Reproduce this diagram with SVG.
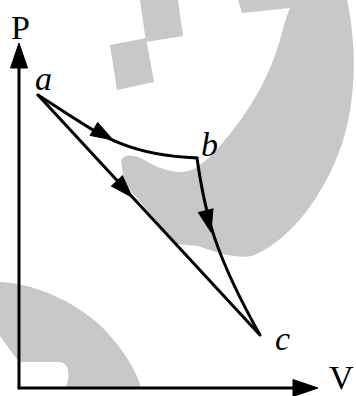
<svg xmlns="http://www.w3.org/2000/svg" width="356" height="396" viewBox="0 0 356 396">
<style>
.wm{fill:#c8c8c8;stroke:none}
.ln{fill:none;stroke:#000;stroke-width:3;stroke-linejoin:miter;stroke-linecap:round}
.ah{fill:#000;stroke:#000;stroke-width:1;stroke-linejoin:miter}
.lbl{font-family:"Liberation Serif","DejaVu Serif",serif;font-size:34px;fill:#000}
.it{font-style:italic}
</style>
<defs>
<path id="axhead" d="M0,0 L-25,-8.5 L-25,8.5 Z"/>
<path id="head" d="M0,0 L-22,-7.5 L-22,7.5 Z"/>
</defs>
<rect width="356" height="396" fill="#fff"/>
<g id="watermark">
<polygon class="wm" points="110,45 146,38 154,82 117,90"/>
<polygon class="wm" points="140,0 178,0 183,36 146,42"/>
<path class="wm" d="M238,0 L347,0 C358,50 356,110 338,155 C318,205 285,243 252,256 C235,259 215,252 198,246 L176,244 L124,183 L121,160 C126,153 136,155 146,161 C160,169 174,174 188,171 C205,166 220,146 233,130 C252,106 270,75 280,40 C284,25 287,14 290,8 L242,13 Z"/>
<path class="wm" d="M0,282 C40,284 80,305 105,330 C125,352 137,372 141,388 L66,388 C70,375 70,364 60,362 L19,362 L0,336 Z"/>
</g>
<g id="axes">
<line class="ln" x1="19" y1="60" x2="19" y2="388"/>
<line class="ln" x1="19" y1="388" x2="300" y2="388"/>
<use href="#axhead" class="ah" transform="translate(19,43) rotate(-90)"/>
<use href="#axhead" class="ah" transform="translate(318,388)"/>
</g>
<g id="connectors">
<path id="a-b" class="ln" d="M38,95 C95,131 120,155 197,158"/>
<path id="b-c" class="ln" d="M197,158 C205,215 215,255 260,335"/>
<path id="a-c" class="ln" d="M38,95 L259,334"/>
<use href="#head" class="ah" transform="translate(113,140) rotate(30)"/>
<use href="#head" class="ah" transform="translate(132,197) rotate(47)"/>
<use href="#head" class="ah" transform="translate(211,232) rotate(76)"/>
</g>
<g id="labels">
<text class="lbl" x="11" y="39">P</text>
<text class="lbl" x="329" y="389" font-size="29">V</text>
<g id="node-a"><text class="lbl it" x="35" y="90">a</text></g>
<g id="node-b"><text class="lbl it" x="201" y="156">b</text></g>
<g id="node-c"><text class="lbl it" x="275" y="350">c</text></g>
</g>
</svg>
